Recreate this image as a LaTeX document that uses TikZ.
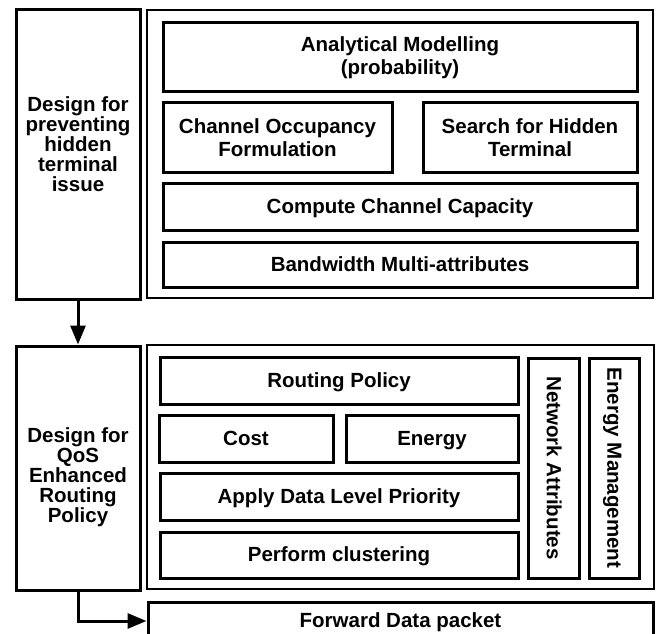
\documentclass[tikz,border=0pt]{standalone}
\usepackage{fontspec}
\setmainfont{Liberation Sans}
\usetikzlibrary{arrows.meta}

\begin{document}
\begin{tikzpicture}[x=1pt, y=-1pt,
        blk/.style={draw, line width=3pt, inner sep=0pt, align=center,
            font=\fontsize{20.5}{23}\selectfont\bfseries},
        one/.style={blk, text height=15pt, text depth=1.5pt},
        side/.style={blk, minimum width=124, font=\fontsize{20.5}{20}\selectfont\bfseries},
        frame/.style={draw, line width=2.8pt, inner sep=0pt},
        flow/.style={line width=3pt, -{Triangle[length=19pt, width=15pt]}}]
    \useasboundingbox (0,0) rectangle (657,634);

    % upper stage
    \node[side, minimum height=289] (hidden) at (78, 154.5)
        {Design for\\preventing\\hidden\\terminal\\issue\\};
    \node[frame, minimum width=506, minimum height=288] (hidframe) at (400, 154) {};
    \node[blk, minimum width=474, minimum height=69] (model) at (400, 57.5)
        {Analytical Modelling\\(probability)};
    \node[blk, minimum width=229, minimum height=69] (occup) at (277.5, 137.5)
        {Channel Occupancy\\Formulation};
    \node[blk, minimum width=214, minimum height=69] (search) at (530, 137.5)
        {Search for Hidden\\Terminal};
    \node[one, minimum width=474, minimum height=47] (capac) at (400, 206.5)
        {Compute Channel Capacity};
    \node[one, minimum width=474, minimum height=45] (bandw) at (400, 264.5)
        {Bandwidth Multi-attributes};

    % lower stage
    \node[side, minimum height=244] (qos) at (78, 468)
        {\rule{0pt}{34pt}Design for\\QoS\\Enhanced\\Routing\\Policy};
    \node[frame, minimum width=507, minimum height=244] (qosframe) at (400.5, 467) {};
    \node[one, minimum width=358, minimum height=47] (policy) at (339, 380.5)
        {Routing Policy};
    \node[one, minimum width=174, minimum height=47] (cost) at (246, 438.5) {Cost};
    \node[one, minimum width=172, minimum height=47] (energy) at (432, 438.5) {Energy};
    \node[one, minimum width=358, minimum height=47] (prior) at (339, 496.5)
        {Apply Data Level Priority};
    \node[one, minimum width=358, minimum height=46] (clust) at (339, 555)
        {Perform clustering};
    \node[one, rotate=-90, minimum width=220, minimum height=51] (netattr) at (553.5, 468)
        {Network Attributes};
    \node[one, rotate=-90, minimum width=220, minimum height=50] (emgmt) at (614, 468)
        {Energy Management};

    \node[one, minimum width=505, minimum height=38] (fwd) at (400.5, 621)
        {Forward Data packet};

    \draw[flow] (hidden) -- (qos);
    \draw[flow] (qos.south) |- (fwd.west);
\end{tikzpicture}
\end{document}
